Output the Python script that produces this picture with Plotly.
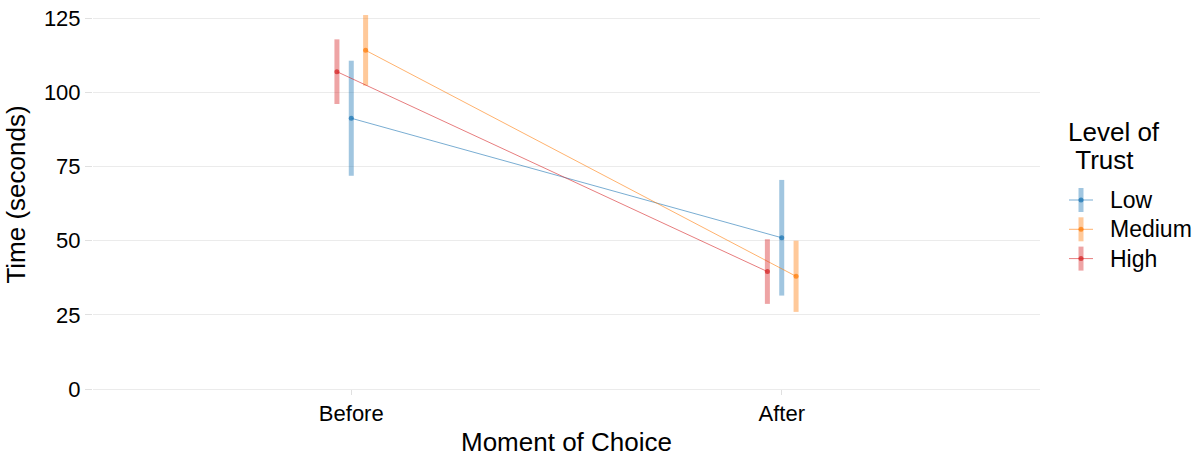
import plotly.graph_objects as go

# Mean decision time (seconds) with error half-widths, by moment of choice and trust level
moments = ["Before", "After"]
trust_levels = ["Low", "Medium", "High"]

low_mean = [91.3, 51.0]
low_err = [19.4, 19.5]
medium_mean = [114.2, 38.0]
medium_err = [11.9, 12.0]
high_mean = [107.0, 39.6]
high_err = [10.9, 10.9]

colors = {"Low": (31, 119, 180), "Medium": (255, 127, 14), "High": (214, 39, 40)}
series = {
    "Low": (low_mean, low_err),
    "Medium": (medium_mean, medium_err),
    "High": (high_mean, high_err),
}

# dodge groups side by side around each category position (group order High, Low, Medium)
dodge_order = ["High", "Low", "Medium"]
dodge_width = 0.1

LINE_A, POINT_A, BAR_A = 0.6, 0.75, 0.42


def rgba(c, a):
    return f"rgba({c[0]},{c[1]},{c[2]},{a})"


fig = go.Figure()
for level in trust_levels:
    means, errs = series[level]
    k = dodge_order.index(level)
    offset = (k - (len(dodge_order) - 1) / 2) * dodge_width / len(dodge_order)
    xs = [i + 1 + offset for i in range(len(moments))]
    c = colors[level]
    fig.add_trace(go.Scatter(
        x=xs, y=means, name=level, mode="lines+markers", showlegend=False,
        line=dict(color=rgba(c, LINE_A), width=1),
        marker=dict(color=rgba(c, POINT_A), size=5),
        error_y=dict(type="data", array=errs, visible=True,
                     color=rgba(c, BAR_A), thickness=5, width=0),
    ))

W, H = 1199, 457
M_L, M_R, M_T, M_B = 93, 159, 0, 68
plot_w, plot_h = W - M_L - M_R, H - M_T - M_B


def px_x(px):
    return (px - M_L) / plot_w


def px_y(py):
    return (H - M_B - py) / plot_h


font_family = "Liberation Sans, Arial, sans-serif"
grid = "#ebebeb"

# legend drawn as keys (line + point + error bar) with labels beside them
shapes, annotations = [], []
annotations.append(dict(text="Level of", xref="paper", yref="paper",
                        x=px_x(1066), y=px_y(132), xanchor="left", yanchor="middle",
                        showarrow=False, font=dict(size=26, color="black")))
annotations.append(dict(text="\u00a0Trust", xref="paper", yref="paper",
                        x=px_x(1066), y=px_y(160), xanchor="left", yanchor="middle",
                        showarrow=False, font=dict(size=26, color="black")))
key_x0, key_x1, key_cx = 1069, 1093, 1081
for j, level in enumerate(trust_levels):
    c = colors[level]
    cy = 200 + j * 29.3
    shapes.append(dict(type="line", xref="paper", yref="paper",
                       x0=px_x(key_cx), x1=px_x(key_cx), y0=px_y(cy - 12), y1=px_y(cy + 12),
                       line=dict(color=rgba(c, BAR_A), width=5)))
    shapes.append(dict(type="line", xref="paper", yref="paper",
                       x0=px_x(key_x0), x1=px_x(key_x1), y0=px_y(cy), y1=px_y(cy),
                       line=dict(color=rgba(c, LINE_A), width=1)))
    shapes.append(dict(type="circle", xref="paper", yref="paper",
                       x0=px_x(key_cx - 2.5), x1=px_x(key_cx + 2.5),
                       y0=px_y(cy - 2.5), y1=px_y(cy + 2.5),
                       fillcolor=rgba(c, POINT_A), line=dict(width=0)))
    annotations.append(dict(text=level, xref="paper", yref="paper",
                            x=px_x(1108), y=px_y(cy), xanchor="left", yanchor="middle",
                            showarrow=False, font=dict(size=23, color="black")))

fig.update_layout(
    width=W, height=H,
    margin=dict(l=M_L, r=M_R, t=M_T, b=M_B),
    paper_bgcolor="white", plot_bgcolor="white",
    font=dict(family=font_family, color="black"),
    showlegend=False,
    shapes=shapes, annotations=annotations,
    xaxis=dict(
        range=[0.4, 2.6], tickvals=[1, 2], ticktext=moments,
        showgrid=False, zeroline=False, showline=False,
        ticks="outside", ticklen=5, tickcolor="#e0e0e0", tickwidth=1,
        tickfont=dict(size=22, color="black"),
        title=dict(text="Moment of Choice", font=dict(size=26), standoff=10),
    ),
    yaxis=dict(
        range=[0, 131.17], tickvals=[0, 25, 50, 75, 100, 125],
        showgrid=True, gridcolor=grid, gridwidth=1,
        zeroline=True, zerolinecolor=grid, zerolinewidth=1, showline=False,
        ticks="outside", ticklen=7, tickcolor="#e0e0e0", tickwidth=1,
        tickfont=dict(size=22, color="black"),
        title=dict(text="Time (seconds)", font=dict(size=26), standoff=10),
    ),
)

fig.write_html("out.html")
